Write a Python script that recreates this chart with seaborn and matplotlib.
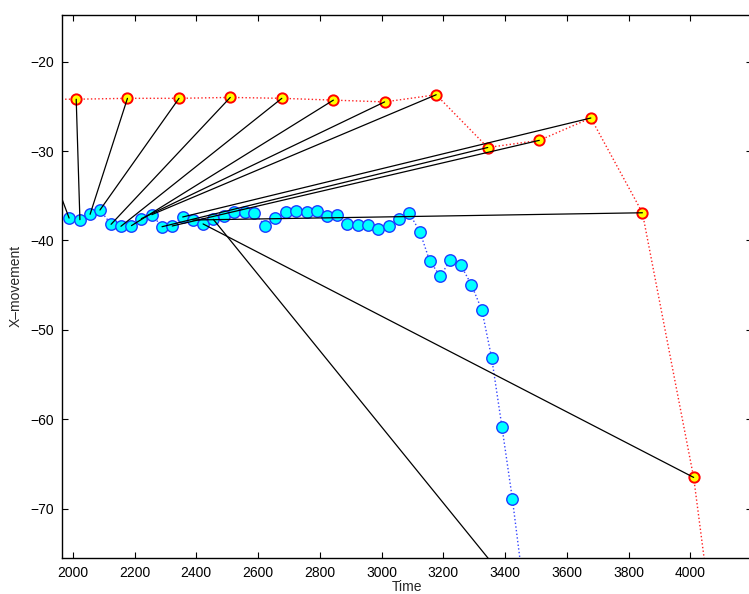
import numpy as np
import pandas as pd
import matplotlib
matplotlib.use("Agg")
import matplotlib.pyplot as plt
import seaborn as sns

# ---- data ----
red_t = [1844, 2011, 2177, 2344, 2510, 2677, 2844, 3010, 3177, 3344, 3511, 3678, 3845, 4011, 4178]
red_v = [-24.2, -24.2, -24.1, -24.1, -24.0, -24.1, -24.3, -24.5, -23.7, -29.6, -28.8, -26.3, -36.9, -66.5, -111.0]

cyan_t = [1988, 2023, 2056, 2088, 2124, 2156, 2190, 2222, 2256, 2289,
          2322, 2356, 2389, 2422, 2455, 2490, 2523, 2557, 2588, 2623,
          2656, 2690, 2723, 2757, 2790, 2824, 2857, 2889, 2923, 2957,
          2990, 3023, 3057, 3090, 3124, 3156, 3190, 3223, 3257, 3291,
          3325, 3357, 3390, 3424, 3457]
cyan_v = [-37.49, -37.67, -37.07, -36.59, -38.19, -38.41, -38.34, -37.56, -37.11, -38.46,
          -38.38, -37.37, -37.71, -38.15, -37.63, -37.23, -36.85, -36.80, -36.89, -38.38,
          -37.45, -36.81, -36.70, -36.85, -36.74, -37.30, -37.15, -38.19, -38.30, -38.30,
          -38.68, -38.34, -37.60, -36.96, -39.00, -42.29, -43.97, -42.22, -42.78, -44.94,
          -47.78, -53.18, -60.83, -68.95, -78.00]

# each red point is linked to the cyan point with the same index
n_links = len(red_t)

x_ticks = [2000, 2200, 2400, 2600, 2800, 3000, 3200, 3400, 3600, 3800, 4000]
y_ticks = [-70, -60, -50, -40, -30, -20]

# ---- build frames ----
red_df = pd.DataFrame({"t": red_t, "v": red_v})
cyan_df = pd.DataFrame({"t": cyan_t, "v": cyan_v})
rows = []
for k in range(n_links):
    rows.append({"link": k, "t": red_t[k], "v": red_v[k]})
    rows.append({"link": k, "t": cyan_t[k], "v": cyan_v[k]})
link_df = pd.DataFrame(rows)

sns.set_theme(style="ticks")
plt.rcParams["font.family"] = ["Liberation Sans", "DejaVu Sans"]

fig = plt.figure(figsize=(7.49, 5.94), dpi=100)
ax = fig.add_axes([62 / 749, 1 - 557.7 / 594, 690 / 749, (557.7 - 15) / 594])

# dotted trajectories
sns.lineplot(data=cyan_df, x="t", y="v", sort=False, estimator=None, ax=ax,
             color="#3344ff", linestyle=":", linewidth=1.0, zorder=1)
sns.lineplot(data=red_df, x="t", y="v", sort=False, estimator=None, ax=ax,
             color="#ff2020", linestyle=":", linewidth=1.0, zorder=1)

# markers
sns.scatterplot(data=cyan_df, x="t", y="v", ax=ax, s=68, color="#00ffff",
                edgecolor="#1a3cff", linewidth=1.0, zorder=3)
sns.scatterplot(data=red_df, x="t", y="v", ax=ax, s=55, color="#ffff00",
                edgecolor="#ff0000", linewidth=1.4, zorder=3)

# black correspondence links
sns.lineplot(data=link_df, x="t", y="v", units="link", estimator=None, sort=False,
             ax=ax, color="black", linewidth=0.9, zorder=4)

ax.set_xlim(1965, 4200)
ax.set_ylim(-75.48, -14.78)
ax.set_xticks(x_ticks)
ax.set_yticks(y_ticks)
ax.set_xticklabels([str(t) for t in x_ticks])
ax.set_yticklabels(["\u2212" + str(-t) for t in y_ticks])
ax.tick_params(direction="in", top=True, right=True, length=4.5, width=0.8,
               labelsize=10, colors="black", pad=6)
for sp in ax.spines.values():
    sp.set_color("black")
    sp.set_linewidth(1.0)
ax.set_xlabel("Time", fontsize=10, labelpad=0)
ax.set_ylabel("X\u2013movement", fontsize=10, labelpad=5)

fig.savefig("out.png", dpi=100)
